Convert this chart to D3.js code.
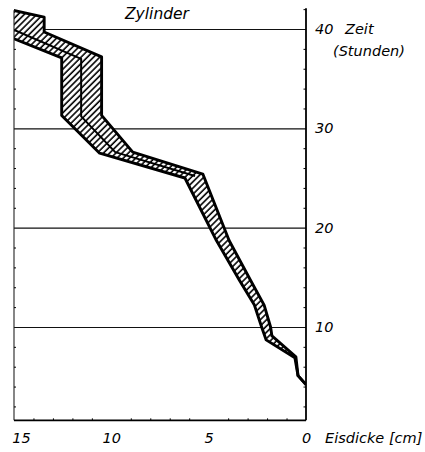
<!DOCTYPE html>
<html><head><meta charset="utf-8">
<script src="https://cdn.jsdelivr.net/npm/d3@7"></script>
<style>
html,body{margin:0;padding:0;background:#fff}
svg{display:block}
text{font-family:"DejaVu Sans",sans-serif;font-style:italic;fill:#000}
</style>
</head><body>
<svg id="c" width="425" height="452"></svg>
<script>
// ---- data (thickness in cm, time in hours) ----
const outerTime  = [39.1, 37.1, 31.3, 27.5, 25.0, 18.7, 14.7, 12.2, 10.0, 8.7, 6.9, 5.1, 4.2];
const outerThick = [15.1, 12.55, 12.55, 10.6, 6.22, 4.6, 3.42, 2.65, 2.28, 2.05, 0.57, 0.41, 0];
const innerTime  = [41.9, 41.2, 39.7, 37.2, 31.3, 27.6, 25.4, 18.7, 14.7, 12.2, 10.0, 9.1, 7.0, 5.1, 4.2];
const innerThick = [15.1, 13.45, 13.45, 10.5, 10.5, 8.9, 5.3, 3.95, 2.85, 2.15, 1.82, 1.75, 0.52, 0.41, 0];
const middleTime  = [40.0, 37.0, 31.2, 27.6, 25.2];
const middleThick = [15.1, 11.55, 11.55, 9.8, 5.7];

const gridTimes = [10, 20, 30, 40];
const timeTickLabels = ["10", "20", "30", "40"];
const minorTimes = [2,4,6,8,12,14,16,18,22,24,26,28,32,34,36,38,42];
const thicknessTicks = [15, 10, 5, 0];
const thicknessTickLabels = ["15", "10", "5", "0"];
const minorThick = [1,2,3,4,6,7,8,9,11,12,13,14];
const titleText = "Zylinder";
const timeTitle = ["Zeit", "(Stunden)"];
const thickTitle = "Eisdicke [cm]";
const timeExtentRight = [0.6, 42.1];
const timeExtentLeft = [0.6, 41.9];

// ---- scales ----
const x = d3.scaleLinear().domain([15, 0]).range([14, 306]);
const y = d3.scaleLinear().domain([0, 40]).range([426.3, 29]);

const svg = d3.select("#c");
svg.append("rect").attr("width", 425).attr("height", 452).attr("fill", "#fff");

const defs = svg.append("defs");
const pat = defs.append("pattern").attr("id", "hatch")
  .attr("patternUnits", "userSpaceOnUse").attr("width", 4.4).attr("height", 4.4)
  .attr("patternTransform", "rotate(45)");
pat.append("rect").attr("width", 4.4).attr("height", 4.4).attr("fill", "#fff");
pat.append("line").attr("x1", 1).attr("y1", 0).attr("x2", 1).attr("y2", 4.4)
  .attr("stroke", "#000").attr("stroke-width", 1.6);
defs.append("clipPath").attr("id", "plotclip").append("rect")
  .attr("x", x(15)).attr("y", 0).attr("width", x(0) - x(15)).attr("height", y(timeExtentLeft[0]));

// ---- gridlines ----
svg.append("g").attr("transform", `translate(${x(0)},0)`)
  .call(d3.axisLeft(y).tickValues(gridTimes).tickSize(x(0) - x(15)).tickFormat(""))
  .call(g => g.select(".domain").remove())
  .call(g => g.selectAll("line").attr("stroke", "#111").attr("stroke-width", 1.2));

// ---- band ----
const outer = outerTime.map((t, i) => [outerThick[i], t]);
const inner = innerTime.map((t, i) => [innerThick[i], t]);
const middle = middleTime.map((t, i) => [middleThick[i], t]);
const line = d3.line().x(d => x(d[0])).y(d => y(d[1]));
const band = svg.append("g").attr("clip-path", "url(#plotclip)");
band.append("path").attr("d", line(outer.concat(inner.slice().reverse())) + "Z")
  .attr("fill", "url(#hatch)").attr("stroke", "none");
band.append("path").attr("d", line(middle)).attr("fill", "none")
  .attr("stroke", "#000").attr("stroke-width", 2).attr("stroke-linejoin", "round");
[outer, inner].forEach(s => band.append("path").attr("d", line(s)).attr("fill", "none")
  .attr("stroke", "#000").attr("stroke-width", 2.9).attr("stroke-linejoin", "round"));

// ---- axes lines ----
svg.append("line").attr("x1", x(0)).attr("x2", x(0))
  .attr("y1", y(timeExtentRight[1])).attr("y2", y(timeExtentRight[0]))
  .attr("stroke", "#000").attr("stroke-width", 1.8);
svg.append("line").attr("x1", x(15)).attr("x2", x(15))
  .attr("y1", y(timeExtentLeft[1])).attr("y2", y(timeExtentLeft[0]))
  .attr("stroke", "#222").attr("stroke-width", 1.1);
svg.append("line").attr("x1", x(15)).attr("x2", x(0))
  .attr("y1", y(timeExtentLeft[0])).attr("y2", y(timeExtentLeft[0]))
  .attr("stroke", "#000").attr("stroke-width", 1.8);

// minor ticks
svg.append("g").attr("transform", `translate(${x(0)},0)`)
  .call(d3.axisLeft(y).tickValues(minorTimes).tickSize(2.5).tickFormat(""))
  .call(g => g.select(".domain").remove());
svg.append("g").attr("transform", `translate(${x(15)},0)`)
  .call(d3.axisRight(y).tickValues(minorTimes.filter(v => v < 41)).tickSize(2).tickFormat(""))
  .call(g => g.select(".domain").remove());
svg.append("g").attr("transform", `translate(0,${y(timeExtentLeft[0])})`)
  .call(d3.axisTop(x).tickValues(minorThick).tickSize(2).tickFormat(""))
  .call(g => g.select(".domain").remove());

// right labels
svg.append("g").attr("transform", `translate(${x(0)},0)`)
  .call(d3.axisRight(y).tickValues(gridTimes).tickSize(0).tickPadding(9)
    .tickFormat((d, i) => timeTickLabels[i]))
  .call(g => g.select(".domain").remove())
  .call(g => g.selectAll("text").attr("font-size", 14.5)
    .attr("font-family", "DejaVu Sans").attr("font-style", "italic").attr("fill", "#000"));

// bottom labels
svg.append("g").attr("transform", `translate(0,${y(timeExtentLeft[0])})`)
  .call(d3.axisBottom(x).tickValues(thicknessTicks).tickSize(0).tickPadding(12)
    .tickFormat((d, i) => thicknessTickLabels[i]))
  .call(g => g.select(".domain").remove())
  .call(g => g.selectAll("text").attr("font-size", 14.5)
    .attr("font-family", "DejaVu Sans").attr("font-style", "italic").attr("fill", "#000")
    .attr("dx", d => d === 15 ? 7 : 0));

// titles
svg.append("text").attr("x", 157).attr("y", 19).attr("text-anchor", "middle")
  .attr("font-size", 15.5).text(titleText);
svg.append("text").attr("x", 345).attr("y", y(40)).attr("dy", "0.32em")
  .attr("font-size", 14.5).text(timeTitle[0]);
svg.append("text").attr("x", 333).attr("y", 56)
  .attr("font-size", 14.5).text(timeTitle[1]);
svg.append("text").attr("x", 325).attr("y", y(timeExtentLeft[0]) + 12).attr("dy", "0.71em")
  .attr("font-size", 14.5).text(thickTitle);
</script>
</body></html>
